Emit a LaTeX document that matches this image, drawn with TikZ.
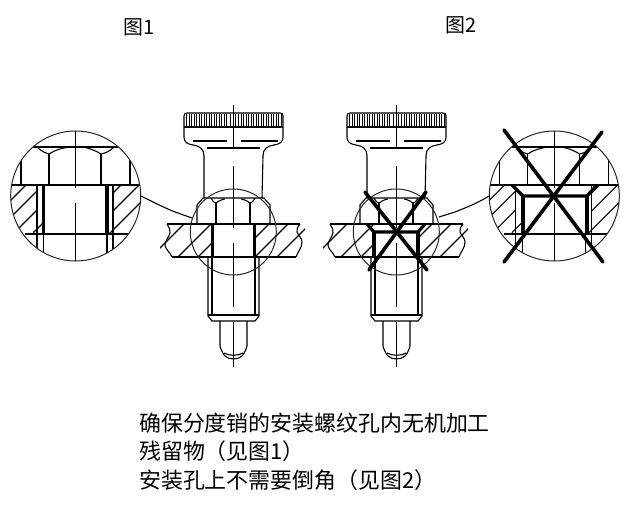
\documentclass[tikz,border=0pt]{standalone}
\usepackage{fontspec}
\setmainfont{Noto Sans CJK SC}
\tikzset{
  thin line/.style={line width=1.1bp,black},
  circle line/.style={line width=1bp,black!85},
  heavy/.style={line width=3.4bp,black},
  cross/.style={line width=3.6bp,black,line cap=round},
  caption/.style={font=\fontsize{22}{24}\selectfont,anchor=west,inner sep=0pt},
  headcap/.style={font=\fontsize{20}{22}\selectfont,anchor=west,inner sep=0pt},
}
% hatch lines x+y=c
\newcommand{\hatchlines}[1]{\foreach \c in {#1} \draw[thin line] ({\c-100},100)--({\c-400},400);}
% pin body: drawn around local x = 233 (figure 1 position)
\newcommand{\pinbody}{%
  \draw[thin line] (184,124) -- (184,116) .. controls (184,114) and (185,113) .. (187,113)
     -- (280,113) .. controls (282,113) and (283,114) .. (283,116) -- (283,137)
     .. controls (283,142) and (280,144) .. (274,145) .. controls (267,146) and (263,149) .. (263,156)
     -- (262,198);
  \draw[thin line] (184,124) -- (184,137) .. controls (184,142) and (187,144) .. (193,145)
     .. controls (200,146) and (204,149) .. (204,156) -- (204,198);
  \draw[thin line] (184,127) -- (283,127);
  \foreach \k in {186.5,189,...,226.5,241,243.5,...,281} \draw[line width=0.9bp,black] (\k,114) -- (\k,127);
  \foreach \k in {230,235,238} \draw[line width=0.9bp,black] (\k,114) -- (\k,127);
  \draw[thin line] (193,141) -- (227,141) (241,141) -- (278,141) (207,148) -- (260,148);
  \draw[thin line] (197,224) -- (197,205) -- (203,198) -- (264,198) -- (270,205) -- (270,224);
  \draw[thin line] (211,198) .. controls (213,202) and (215,203) .. (216,203) .. controls (220,200) and (224,199) .. (225,199);
  \draw[thin line] (255,198) .. controls (253,202) and (251,203) .. (250,203) .. controls (246,200) and (242,199) .. (241,199);
  \draw[thin line] (216,203) -- (216,224) (250,203) -- (250,224);
  \draw[thin line] (233.3,105) -- (233.3,147) (233.3,166) -- (233.3,228) (233.3,243) -- (233.3,307) (233.3,322) -- (233.3,367);
  \draw[thin line] (208,257) -- (208,316) -- (212,321) -- (255,321) -- (259,316) -- (259,257);
  \draw[thin line] (208,315) -- (259,315) (212,257) -- (212,315) (255,257) -- (255,315);
  \draw[thin line] (220,321) -- (220,346) .. controls (221,350) and (223,354) .. (225,356)
     .. controls (229,360) and (238,360) .. (242,356) .. controls (244,354) and (246,350) .. (247,346) -- (247,321);
  \draw[thin line] (224,353) .. controls (229,356) and (238,356) .. (243,353);
  \draw[thin line] (167,224) -- (300,224) (172,257) -- (296,257);
  \draw[thin line] (167,224) .. controls (169,228) and (171,230) .. (170,233) .. controls (169,237) and (165,241) .. (165,245) .. controls (165,249) and (170,252) .. (172,257);
  \draw[thin line] (300,224) .. controls (298,227) and (296,229) .. (297,232) .. controls (298,235) and (302,238) .. (302,242) .. controls (302,248) and (298,251) .. (296,257);
  \begin{scope}
    \clip (160,224) rectangle (212,257);
    \hatchlines{408,435,455}
  \end{scope}
  \begin{scope}
    \clip (255,224) rectangle (305,257);
    \hatchlines{493,512,534}
  \end{scope}
}
% detail circle contents, local centre at (75.7,196)
\newcommand{\detailbody}{%
  \begin{scope}
    \clip (75.7,196) circle (65);
    \draw[thin line] (33,147) -- (118,147);
    \draw[thin line] (21,140) -- (21,185) (130,140) -- (130,185) (49,154) -- (49,185) (101,154) -- (101,185);
    \draw[thin line] (37,147) .. controls (42,152) and (46,153) .. (49,154) .. controls (55,150) and (62,148) .. (70,147);
    \draw[thin line] (114,147) .. controls (109,152) and (105,153) .. (101,154) .. controls (95,150) and (88,148) .. (83,147);
    \draw[thin line] (0,185) -- (150,185) (25,234) -- (128,234);
    \draw[thin line] (75.7,120) -- (75.7,188) (75.7,203) -- (75.7,270);
    \draw[thin line] (37,185) -- (37,270) (113,185) -- (113,270) (43.7,234) -- (43.7,270) (107,234) -- (107,270);
    \begin{scope}
      \clip (0,185) rectangle (37,234);
      \hatchlines{211,228,247}
    \end{scope}
    \begin{scope}
      \clip (33,185) rectangle (43.7,234);
      \hatchlines{266}
    \end{scope}
    \begin{scope}
      \clip (113,185) rectangle (150,234);
      \hatchlines{306,324}
    \end{scope}
    \begin{scope}
      \clip (107,185) rectangle (150,234);
      \hatchlines{343}
    \end{scope}
  \end{scope}
}
\begin{document}
\begin{tikzpicture}[x=1bp,y=-1bp]
  \useasboundingbox[fill=white] (0,0) rectangle (636,506);
  \node[headcap] (cap1) at (123,27) {图1};
  \node[headcap] (cap2) at (445,25) {图2};
  % figure 1: pin
  \pinbody
  \draw[heavy] (212.5,224) -- (212.5,257) (254.5,224) -- (254.5,257);
  \draw[circle line] (233.3,232) circle (43);
  % figure 1: detail
  \detailbody
  \draw[heavy] (43.7,185) -- (43.7,234) (107,185) -- (107,234);
  \draw[circle line] (75.7,196) circle (65);
  \coordinate (lead1a) at (141,196);
  \coordinate (lead1b) at (192,218);
  \draw[thin line] (lead1a) .. controls (155,203) and (165,208) .. (175,212) -- (lead1b);
  % figure 2: pin
  \begin{scope}[xshift=163bp]
    \pinbody
  \end{scope}
  \draw[line width=3.2bp,black,line join=miter] (367,224) -- (374,232) -- (418,232) -- (425,224);
  \draw[line width=3.2bp,black] (374,232) -- (374,257) (418,232) -- (418,257);
  \draw[circle line] (396.3,232) circle (43);
  \draw[cross] (365,192) -- (427,270);
  \draw[cross] (426,192) -- (369,270);
  % figure 2: detail
  \begin{scope}[xshift=478.6bp]
    \detailbody
  \end{scope}
  \draw[line width=3.2bp,black] (512,185) -- (523,196) -- (587,196) -- (597,185);
  \draw[line width=3.2bp,black] (523,196) -- (523,234) (587,196) -- (587,234);
  \draw[circle line] (554.3,196) circle (65);
  \draw[cross] (504,130) -- (603,262);
  \draw[cross] (602,132) -- (504,262);
  \coordinate (lead2a) at (489,196);
  \coordinate (lead2b) at (439,217);
  \draw[thin line] (lead2a) .. controls (478,203) and (465,208) .. (455,212) -- (lead2b);
  % caption text
  \node[caption] (t1) at (139,423) {确保分度销的安装螺纹孔内无机加工};
  \node[caption] (t2) at (139,451) {残留物（见图1）};
  \node[caption] (t3) at (139,480) {安装孔上不需要倒角（见图2）};
\end{tikzpicture}
\end{document}
